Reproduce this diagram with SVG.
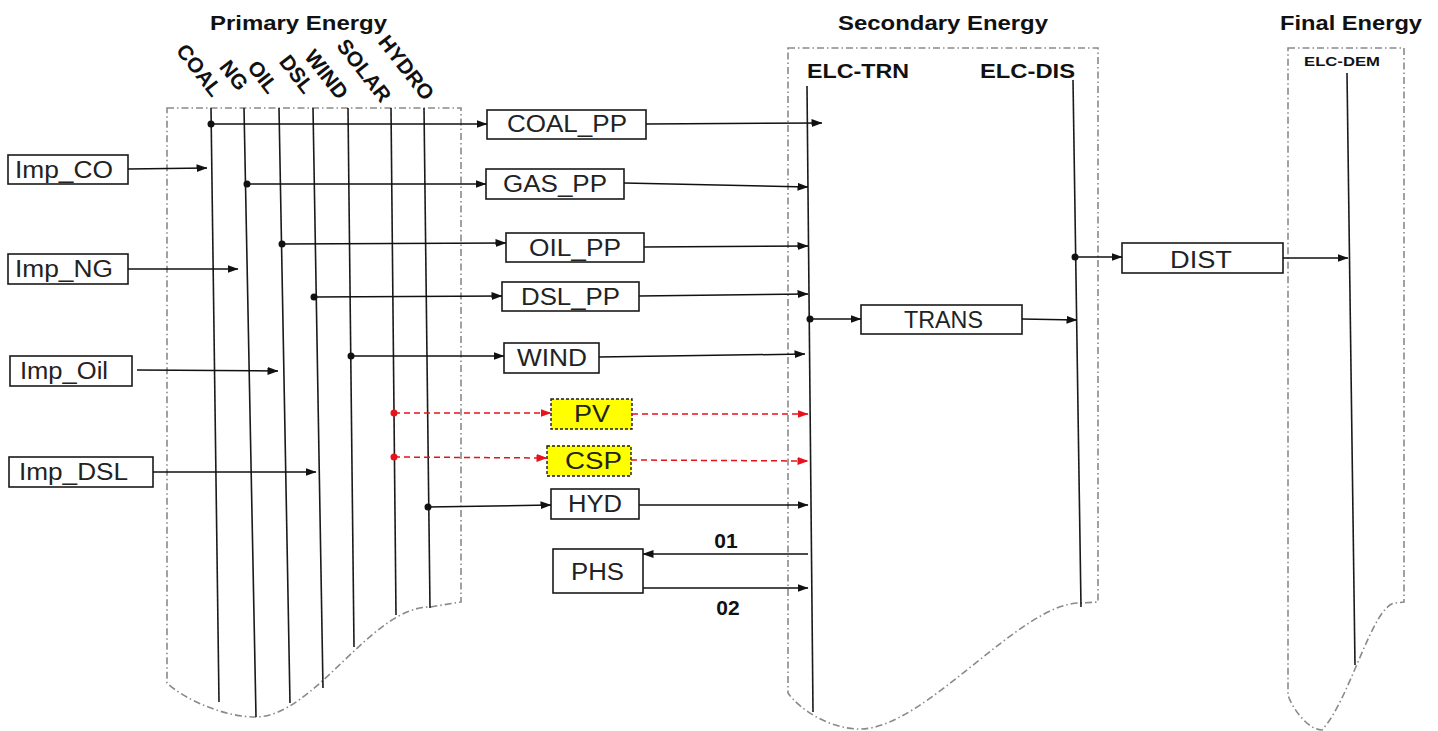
<svg xmlns="http://www.w3.org/2000/svg" width="1438" height="731" viewBox="0 0 1438 731">
<style>
.cont{fill:none;stroke:#8a8a8a;stroke-width:1.6;stroke-dasharray:7 3 1.5 3}
.bus{fill:none;stroke:#1a1a1a;stroke-width:1.6}
.box{fill:#fff;stroke:#1a1a1a;stroke-width:1.6}
.ybox{fill:#ffff00;stroke:#1a1a1a;stroke-width:1.4;stroke-dasharray:3 2}
.t{font-family:"Liberation Sans",Arial,sans-serif;font-size:23px;fill:#222}
.b{font-family:"Liberation Sans",Arial,sans-serif;font-weight:bold;fill:#111}
.c{fill:none;stroke:#111;stroke-width:1.5}
.r{fill:none;stroke:#e8121b;stroke-width:1.5;stroke-dasharray:6 4}
.dot{fill:#111}
.rdot{fill:#e8121b}
</style>
<defs>
<marker id="ah" markerUnits="userSpaceOnUse" markerWidth="11" markerHeight="8" refX="10.5" refY="4" orient="auto"><path d="M0,0 L11,4 L0,8 z" fill="#111"/></marker>
<marker id="rah" markerUnits="userSpaceOnUse" markerWidth="11" markerHeight="8" refX="10.5" refY="4" orient="auto"><path d="M0,0 L11,4 L0,8 z" fill="#e8121b"/></marker>
</defs>
<rect width="1438" height="731" fill="#fff"/>

<g id="primary-energy">
<path class="cont" d="M167,108 L461,108 L461,602 L430,607 C370,607 315,717 255,717 C225,717 185,700 167,683 Z"/>
<text class="b" x="210" y="30" font-size="20" textLength="177" lengthAdjust="spacingAndGlyphs">Primary Energy</text>
<g class="b" font-size="21" text-anchor="end">
<text transform="translate(212,98) rotate(52)">COAL</text>
<text transform="translate(238,92) rotate(52)">NG</text>
<text transform="translate(268,95) rotate(52)">OIL</text>
<text transform="translate(304,95) rotate(52)">DSL</text>
<text transform="translate(338,101) rotate(52)">WIND</text>
<text transform="translate(381,104) rotate(52)">SOLAR</text>
<text transform="translate(424,102) rotate(52)">HYDRO</text>
</g>
<line id="COAL" class="bus" x1="211" y1="108" x2="219" y2="702"/>
<line id="NG" class="bus" x1="244" y1="108" x2="256" y2="717"/>
<line id="OIL" class="bus" x1="279" y1="108" x2="290" y2="703"/>
<line id="DSL" class="bus" x1="313" y1="108" x2="323" y2="688"/>
<line id="WIND" class="bus" x1="348" y1="108" x2="354" y2="647"/>
<line id="SOLAR" class="bus" x1="391" y1="108" x2="396" y2="615"/>
<line id="HYDRO" class="bus" x1="424" y1="108" x2="430" y2="608"/>
</g>

<g id="secondary-energy">
<path class="cont" d="M788,48 L1098,48 L1098,602 L1080,603 C1020,603 925,729 860,729 C830,729 800,710 788,693 Z"/>
<text class="b" x="838" y="30" font-size="20" textLength="210" lengthAdjust="spacingAndGlyphs">Secondary Energy</text>
<text class="b" x="807" y="78" font-size="20" textLength="102" lengthAdjust="spacingAndGlyphs">ELC-TRN</text>
<text class="b" x="980" y="78" font-size="20" textLength="95" lengthAdjust="spacingAndGlyphs">ELC-DIS</text>
<line id="ELC-TRN" class="bus" x1="807" y1="86" x2="813" y2="712"/>
<line id="ELC-DIS" class="bus" x1="1073" y1="80" x2="1081" y2="607"/>
</g>

<g id="final-energy">
<path class="cont" d="M1288,48 L1404,48 L1404,602 L1395,603 C1372,606 1350,700 1322,730 C1308,730 1292,708 1288,695 Z"/>
<text class="b" x="1280" y="30" font-size="20" textLength="142" lengthAdjust="spacingAndGlyphs">Final Energy</text>
<text class="b" x="1304" y="66" font-size="13" textLength="76" lengthAdjust="spacingAndGlyphs">ELC-DEM</text>
<line id="ELC-DEM" class="bus" x1="1347" y1="73" x2="1355" y2="665"/>
</g>

<g id="Imp_CO"><rect class="box" x="8" y="155" width="120" height="29"/><text class="t" x="15" y="178" textLength="98" lengthAdjust="spacingAndGlyphs">Imp_CO</text></g>
<g id="Imp_NG"><rect class="box" x="8" y="254" width="120" height="30"/><text class="t" x="15" y="277" textLength="98" lengthAdjust="spacingAndGlyphs">Imp_NG</text></g>
<g id="Imp_Oil"><rect class="box" x="10" y="356" width="122" height="30"/><text class="t" x="20" y="379" textLength="88" lengthAdjust="spacingAndGlyphs">Imp_Oil</text></g>
<g id="Imp_DSL"><rect class="box" x="9" y="457" width="144" height="30"/><text class="t" x="19" y="480" textLength="109" lengthAdjust="spacingAndGlyphs">Imp_DSL</text></g>

<g id="COAL_PP"><rect class="box" x="487" y="110" width="159" height="29"/><text class="t" x="507" y="132" textLength="120" lengthAdjust="spacingAndGlyphs">COAL_PP</text></g>
<g id="GAS_PP"><rect class="box" x="486" y="169" width="138" height="30"/><text class="t" x="503" y="192" textLength="104" lengthAdjust="spacingAndGlyphs">GAS_PP</text></g>
<g id="OIL_PP"><rect class="box" x="506" y="233" width="138" height="29"/><text class="t" x="529" y="256" textLength="92" lengthAdjust="spacingAndGlyphs">OIL_PP</text></g>
<g id="DSL_PP"><rect class="box" x="502" y="282" width="137" height="29"/><text class="t" x="521" y="305" textLength="99" lengthAdjust="spacingAndGlyphs">DSL_PP</text></g>
<g id="WIND_PP"><rect class="box" x="504" y="343" width="95" height="30"/><text class="t" x="517" y="366" textLength="70" lengthAdjust="spacingAndGlyphs">WIND</text></g>
<g id="PV"><rect class="ybox" x="551" y="399" width="81" height="30"/><text class="t" x="574" y="422" textLength="36" lengthAdjust="spacingAndGlyphs">PV</text></g>
<g id="CSP"><rect class="ybox" x="547" y="446" width="84" height="30"/><text class="t" x="565" y="469" textLength="57" lengthAdjust="spacingAndGlyphs">CSP</text></g>
<g id="HYD"><rect class="box" x="551" y="489" width="88" height="30"/><text class="t" x="568" y="512" textLength="54" lengthAdjust="spacingAndGlyphs">HYD</text></g>
<g id="PHS"><rect class="box" x="553" y="549" width="90" height="44"/><text class="t" x="571" y="580" textLength="53" lengthAdjust="spacingAndGlyphs">PHS</text></g>
<g id="TRANS"><rect class="box" x="861" y="305" width="161" height="29"/><text class="t" x="904" y="328" textLength="79" lengthAdjust="spacingAndGlyphs">TRANS</text></g>
<g id="DIST"><rect class="box" x="1122" y="243" width="161" height="30"/><text class="t" x="1170" y="268" font-size="27" textLength="62" lengthAdjust="spacingAndGlyphs">DIST</text></g>

<g id="connectors">
<line class="c" x1="128" y1="169" x2="207" y2="168" marker-end="url(#ah)"/>
<line class="c" x1="128" y1="269" x2="238" y2="269" marker-end="url(#ah)"/>
<line class="c" x1="137" y1="370" x2="278" y2="371" marker-end="url(#ah)"/>
<line class="c" x1="153" y1="472" x2="316" y2="472" marker-end="url(#ah)"/>

<line class="c" x1="211" y1="124" x2="487" y2="124" marker-end="url(#ah)"/>
<line class="c" x1="247" y1="184" x2="486" y2="184" marker-end="url(#ah)"/>
<line class="c" x1="282" y1="244" x2="506" y2="243" marker-end="url(#ah)"/>
<line class="c" x1="314" y1="297" x2="502" y2="296" marker-end="url(#ah)"/>
<line class="c" x1="351" y1="356" x2="504" y2="356" marker-end="url(#ah)"/>
<line class="r" x1="394" y1="413" x2="551" y2="413" marker-end="url(#rah)"/>
<line class="r" x1="394" y1="457" x2="547" y2="458" marker-end="url(#rah)"/>
<line class="c" x1="428" y1="507" x2="551" y2="505" marker-end="url(#ah)"/>

<line class="c" x1="646" y1="124" x2="822" y2="123" marker-end="url(#ah)"/>
<line class="c" x1="624" y1="183" x2="808" y2="187" marker-end="url(#ah)"/>
<line class="c" x1="644" y1="247" x2="808" y2="246" marker-end="url(#ah)"/>
<line class="c" x1="639" y1="296" x2="808" y2="294" marker-end="url(#ah)"/>
<line class="c" x1="599" y1="357" x2="805" y2="354" marker-end="url(#ah)"/>
<line class="r" x1="632" y1="414" x2="808" y2="414" marker-end="url(#rah)"/>
<line class="r" x1="631" y1="460" x2="808" y2="461" marker-end="url(#rah)"/>
<line class="c" x1="639" y1="505" x2="808" y2="505" marker-end="url(#ah)"/>
<line class="c" x1="808" y1="554" x2="643" y2="554" marker-end="url(#ah)"/>
<line class="c" x1="643" y1="588" x2="808" y2="588" marker-end="url(#ah)"/>
<text class="b" x="726" y="548" font-size="21" text-anchor="middle">01</text>
<text class="b" x="728" y="615" font-size="21" text-anchor="middle">02</text>

<line class="c" x1="810" y1="319" x2="861" y2="319" marker-end="url(#ah)"/>
<line class="c" x1="1022" y1="319" x2="1077" y2="320" marker-end="url(#ah)"/>
<line class="c" x1="1075" y1="257" x2="1122" y2="257" marker-end="url(#ah)"/>
<line class="c" x1="1283" y1="258" x2="1348" y2="258" marker-end="url(#ah)"/>

<circle class="dot" cx="211" cy="124" r="3.5"/>
<circle class="dot" cx="247" cy="184" r="3.5"/>
<circle class="dot" cx="282" cy="244" r="3.5"/>
<circle class="dot" cx="314" cy="297" r="3.5"/>
<circle class="dot" cx="351" cy="356" r="3.5"/>
<circle class="rdot" cx="394" cy="413" r="3.5"/>
<circle class="rdot" cx="394" cy="457" r="3.5"/>
<circle class="dot" cx="428" cy="507" r="3.5"/>
<circle class="dot" cx="810" cy="319" r="3.5"/>
<circle class="dot" cx="1075" cy="257" r="3.5"/>
</g>
</svg>
